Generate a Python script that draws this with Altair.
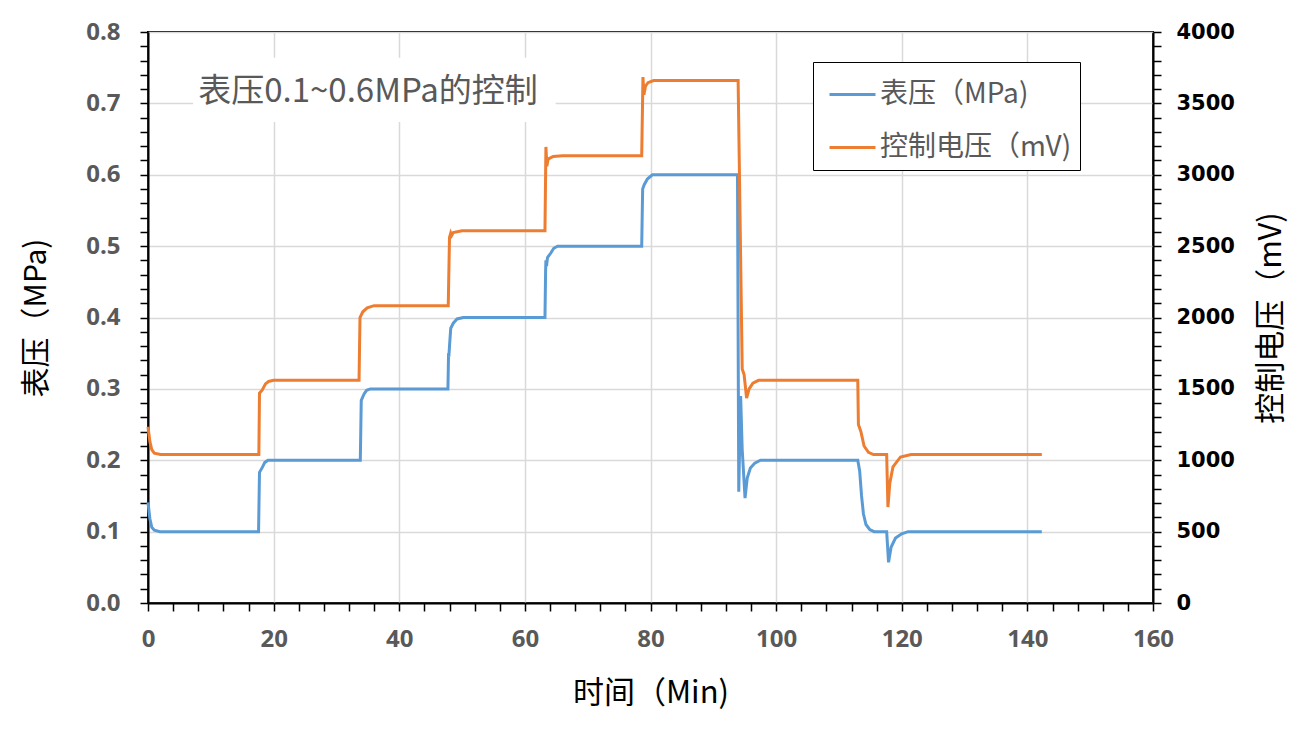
import altair as alt
import pandas as pd

# ---- data ----
# 表压 (MPa) vs time (min)
p_time = [0.0, 0.3, 0.6, 1.0, 1.9, 17.6, 17.75, 18.2, 18.6, 19.1,
          33.8, 33.95, 34.4, 34.8, 35.4, 47.75, 47.85, 47.9, 48.0, 48.2,
          48.6, 49.2, 50.2, 63.2, 63.3, 63.35, 63.45, 63.6, 64.1, 64.6,
          65.2, 78.6, 78.75, 79.0, 79.5, 80.3, 93.85, 94.05, 94.35, 94.6,
          95.05, 95.4, 95.9, 96.6, 97.5, 113.0, 113.3, 113.6, 113.9, 114.3,
          114.9, 115.6, 117.6, 117.9, 118.3, 119.0, 120.0, 121.0, 142.3]
p_value = [0.141, 0.118, 0.106, 0.102, 0.100, 0.100, 0.183, 0.190, 0.197, 0.200,
           0.200, 0.284, 0.293, 0.298, 0.300, 0.300, 0.350, 0.345, 0.360, 0.385,
           0.392, 0.398, 0.400, 0.400, 0.465, 0.480, 0.472, 0.484, 0.490, 0.497,
           0.500, 0.500, 0.580, 0.586, 0.594, 0.600, 0.600, 0.156, 0.290, 0.215,
           0.147, 0.175, 0.189, 0.196, 0.200, 0.200, 0.185, 0.150, 0.125, 0.110,
           0.103, 0.100, 0.100, 0.057, 0.078, 0.091, 0.097, 0.100, 0.100]

# 控制电压 (mV) vs time (min)
v_time = [0.0, 0.3, 0.6, 1.0, 2.0, 17.65, 17.75, 18.2, 18.7, 19.2,
          20.0, 33.6, 33.75, 34.2, 34.9, 36.0, 47.8, 48.0, 48.2, 48.35,
          48.6, 50.0, 63.2, 63.35, 63.5, 63.7, 64.5, 66.0, 78.6, 78.8,
          78.95, 79.2, 79.6, 80.5, 93.95, 94.6, 94.9, 95.3, 95.7, 96.3,
          97.2, 113.0, 113.1, 113.5, 114.0, 114.7, 115.5, 117.6, 117.8, 118.1,
          118.6, 119.8, 121.5, 142.3]
v_value = [1235, 1130, 1075, 1050, 1040, 1040, 1470, 1492, 1535, 1552,
           1560, 1560, 2000, 2040, 2068, 2083, 2083, 2560, 2592, 2575,
           2595, 2607, 2607, 3195, 3060, 3110, 3128, 3133, 3133, 3685,
           3560, 3620, 3645, 3660, 3660, 1640, 1600, 1436, 1500, 1540,
           1560, 1560, 1250, 1200, 1100, 1055, 1040, 1040, 672, 840,
           953, 1023, 1040, 1040]

series_names = ["表压（MPa)", "控制电压（mV)"]
series_colors = ["#5b9bd5", "#ed7d31"]

x_ticks = list(range(0, 161, 4))
y_left_ticks = [round(i * 0.02, 2) for i in range(41)]
y_right_ticks = list(range(0, 4001, 100))

annotation_text = ["表压0.1~0.6MPa的控制"]

# ---- tables ----
df_p = pd.DataFrame({"t": p_time, "v": p_value, "series": series_names[0]})
df_v = pd.DataFrame({"t": v_time, "v": v_value, "series": series_names[1]})
df_note = pd.DataFrame({"label": annotation_text})

LABEL_FONT = "Open Sans"
CJK_FONT = "Noto Sans CJK SC"
GRID = "#d9d9d9"

x_scale = alt.Scale(domain=[0, 160], nice=False, zero=False)
yl_scale = alt.Scale(domain=[0, 0.8], nice=False)
yr_scale = alt.Scale(domain=[0, 4000], nice=False)

x_axis = alt.Axis(
    values=x_ticks,
    labelExpr="datum.value % 20 === 0 ? datum.label : ''",
    title="时间（Min)",
    grid=True,
    gridColor=GRID,
    gridOpacity={"condition": {"test": "datum.value % 20 === 0", "value": 1}, "value": 0},
    gridWidth=1.5,
    domainColor="black", domainWidth=2,
    tickColor="black", tickWidth=1.5, tickSize=8,
    labelFont=LABEL_FONT, labelFontWeight="bold", labelFontSize=24, labelColor="#595959",
    labelPadding=16, labelOverlap=False, labelFlush=False,
    titleFont=CJK_FONT, titleFontSize=31, titleFontWeight="normal", titleColor="black",
    titlePadding=27,
)

yl_test = "abs(datum.value * 10 - round(datum.value * 10)) < 0.001"
yl_axis = alt.Axis(
    orient="left",
    values=y_left_ticks,
    labelExpr=yl_test + " ? format(datum.value, '.1f') : ''",
    title="表压（MPa)",
    grid=True,
    gridColor=GRID,
    gridOpacity={"condition": {"test": yl_test, "value": 1}, "value": 0},
    gridWidth=1.5,
    domainColor="black", domainWidth=2,
    tickColor="black", tickWidth=1.5, tickSize=8,
    labelFont=LABEL_FONT, labelFontWeight="bold", labelFontSize=24, labelColor="#595959",
    labelPadding=20, labelOverlap=False, labelFlush=False,
    titleFont=CJK_FONT, titleFontSize=30, titleFontWeight="normal", titleColor="black",
    titlePadding=34,
)

yr_axis = alt.Axis(
    orient="right",
    values=y_right_ticks,
    labelExpr="datum.value % 500 === 0 ? format(datum.value, 'd') : ''",
    title="控制电压（mV)",
    titleAngle=270,
    titleBaseline="top",
    grid=False,
    domainColor="black", domainWidth=2,
    tickColor="black", tickWidth=1.5, tickSize=8,
    labelFont="DejaVu Sans", labelFontWeight="bold", labelFontSize=21, labelColor="black",
    labelPadding=15, labelOverlap=False, labelFlush=False,
    titleFont=CJK_FONT, titleFontSize=31, titleFontWeight="normal", titleColor="black",
    titlePadding=22,
)

legend = alt.Legend(
    title=None, orient="none", legendX=665, legendY=30, direction="vertical",
    strokeColor="black", fillColor="white", padding=8, rowPadding=14,
    symbolType="stroke", symbolSize=2116, symbolStrokeWidth=3, symbolOffset=7,
    labelFont=CJK_FONT, labelFontSize=28, labelColor="#595959",
    labelOffset=3, labelLimit=400,
)

color = alt.Color("series:N", scale=alt.Scale(domain=series_names, range=series_colors),
                  legend=legend)

note_box = alt.Chart(df_note).mark_rect(color="white").encode(
    x=alt.X(datum=7.2, type="quantitative", scale=x_scale, axis=x_axis),
    x2=alt.X2(datum=64.9),
    y=alt.Y(datum=0.764, type="quantitative", scale=yl_scale, axis=yl_axis),
    y2=alt.Y2(datum=0.674),
)

note_text = alt.Chart(df_note).mark_text(
    align="left", baseline="middle", font=CJK_FONT, fontSize=33, color="#595959"
).encode(
    x=alt.X(datum=8.0, type="quantitative", scale=x_scale, axis=x_axis),
    y=alt.Y(datum=0.716, type="quantitative", scale=yl_scale, axis=yl_axis),
    text="label:N",
)

p_line = alt.Chart(df_p).mark_line(strokeWidth=3).encode(
    x=alt.X("t:Q", scale=x_scale, axis=x_axis),
    y=alt.Y("v:Q", scale=yl_scale, axis=yl_axis),
    color=color,
    order="t:Q",
)

v_line = alt.Chart(df_v).mark_line(strokeWidth=3).encode(
    x=alt.X("t:Q", scale=x_scale, axis=x_axis),
    y=alt.Y("v:Q", scale=yr_scale, axis=yr_axis),
    color=color,
    order="t:Q",
)

left = alt.layer(note_box, note_text, p_line)

chart = alt.layer(left, v_line).resolve_scale(y="independent").properties(
    width=1005,
    height=571,
    padding={"left": 148, "top": 32, "right": 157, "bottom": 135},
    autosize=alt.AutoSizeParams(type="none"),
    background="white",
).configure_view(stroke="black", strokeWidth=2)

chart.save("out.html", embed_options={"renderer": "svg", "actions": False})
